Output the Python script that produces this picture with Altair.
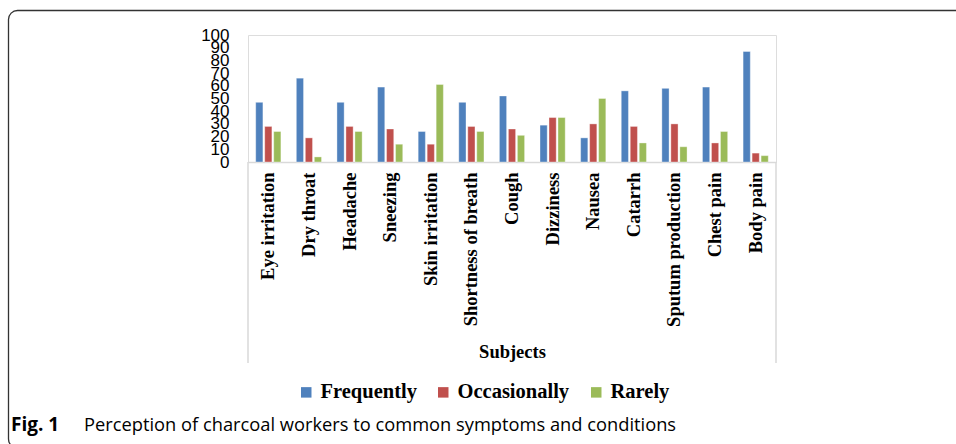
import altair as alt
import pandas as pd

subjects = ["Eye irritation", "Dry throat", "Headache", "Sneezing", "Skin irritation",
            "Shortness of breath", "Cough", "Dizziness", "Nausea", "Catarrh",
            "Sputum production", "Chest pain", "Body pain"]
frequently = [47, 66, 47, 59, 24, 47, 52, 29, 19, 56, 58, 59, 87]
occasionally = [28, 19, 28, 26, 14, 28, 26, 35, 30, 28, 30, 15, 7]
rarely = [24, 4, 24, 14, 61, 24, 21, 35, 50, 15, 12, 24, 5]
series = ["Frequently", "Occasionally", "Rarely"]
colors = ["#4F81BD", "#C0504D", "#9BBB59"]
y_ticks = list(range(0, 101, 10))

rows = []
for name, vals in zip(series, [frequently, occasionally, rarely]):
    for s, v in zip(subjects, vals):
        rows.append({"Subject": s, "Series": name, "Value": v})
df = pd.DataFrame(rows)

W, H = 528, 127
PL, PT = 248, 35

bars = alt.Chart(df).mark_bar(stroke="#ffffff", strokeWidth=0.6, strokeOpacity=0.6).encode(
    x=alt.X("Subject:N", sort=subjects,
            scale=alt.Scale(paddingInner=0.38, paddingOuter=0.19),
            axis=alt.Axis(title="Subjects", labelAngle=270, labelFont="Liberation Serif",
                          labelFontWeight="bold", labelFontSize=18.5, labelColor="#000000",
                          labelPadding=10, ticks=False, domainColor="#d9d9d9", domainWidth=1.5,
                          titleFont="Liberation Serif", titleFontWeight="bold", titleFontSize=18.5,
                          titleColor="#000000", titleY=180, titleBaseline="top")),
    xOffset=alt.XOffset("Series:N", sort=series, scale=alt.Scale(paddingInner=0.2)),
    y=alt.Y("Value:Q", scale=alt.Scale(domain=[0, 100], nice=False),
            axis=alt.Axis(title=None, values=y_ticks, labelFont="Liberation Sans", labelFontSize=17,
                          labelColor="#000000", labelOverlap=False, domain=False, ticks=False,
                          grid=False, labelPadding=19, labelBaseline="middle")),
    color=alt.Color("Series:N", sort=series,
                    scale=alt.Scale(domain=series, range=colors),
                    legend=alt.Legend(title=None, orient="none", legendX=48, legendY=347,
                                      direction="horizontal", symbolType="square", symbolSize=110,
                                      symbolStrokeWidth=0, labelFont="Liberation Serif",
                                      labelFontWeight="bold", labelFontSize=20.5, labelColor="#000000",
                                      labelOffset=4, columnPadding=16)),
)

one = pd.DataFrame({"k": [0]})
box_left = alt.Chart(one).mark_rule(color="#d9d9d9", strokeWidth=1.5).encode(
    x=alt.value(0), y=alt.value(H), y2=alt.value(363 - PT))
box_right = alt.Chart(one).mark_rule(color="#d9d9d9", strokeWidth=1.5).encode(
    x=alt.value(W), y=alt.value(H), y2=alt.value(363 - PT))

frame = alt.Chart(one).mark_rect(fill=None, stroke="#333333", strokeWidth=1.3, cornerRadius=9).encode(
    x=alt.value(8.5 - PL), x2=alt.value(980 - PL), y=alt.value(10.5 - PT), y2=alt.value(448 - PT))

cap_bold = alt.Chart(one).mark_text(text="Fig. 1", font="Open Sans", fontWeight="bold", fontSize=19,
                                    align="left", baseline="alphabetic", color="#000000").encode(
    x=alt.value(11 - PL), y=alt.value(431 - PT))
cap_text = alt.Chart(one).mark_text(text="Perception of charcoal workers to common symptoms and conditions",
                                    font="Open Sans", fontSize=18.3, align="left", baseline="alphabetic",
                                    color="#000000").encode(
    x=alt.value(84 - PL), y=alt.value(431 - PT))

chart = alt.layer(frame, box_left, box_right, bars, cap_bold, cap_text).properties(
    width=W, height=H,
    autosize=alt.AutoSizeParams(type="none"),
    padding={"left": PL, "top": PT, "right": 956 - PL - W, "bottom": 444 - PT - H},
).configure_view(stroke=None).configure(background="#ffffff")

chart.save("out.html", embed_options={"renderer": "svg", "actions": False})
